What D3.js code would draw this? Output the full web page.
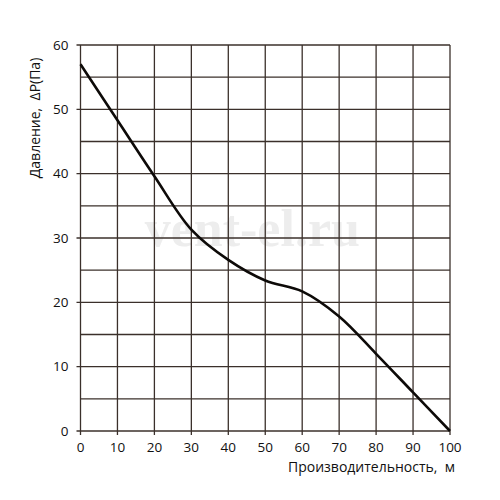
<!DOCTYPE html>
<html>
<head>
<meta charset="utf-8">
<script src="https://cdn.jsdelivr.net/npm/d3@7"></script>
<style>
body { margin: 0; background: #fff; }
text { font-family: "Open Sans", "DejaVu Sans", sans-serif; }
</style>
</head>
<body>
<div id="chart"></div>
<script>
var flow = [0, 10, 20, 30, 40, 50, 60, 70, 80, 90, 100]
var pressure = [57, 48.3, 39.6, 31.3, 26.6, 23.4, 21.7, 17.8, 12, 6, 0]
var xTicks = [0, 10, 20, 30, 40, 50, 60, 70, 80, 90, 100]
var yTicks = [0, 10, 20, 30, 40, 50, 60]
var yGrid = [5, 15, 25, 35, 45, 55]

var margin = { left: 80.5, right: 50, top: 45, bottom: 69 }
var width = 500 - margin.left - margin.right
var height = 500 - margin.top - margin.bottom
var ink = "#3b302b"

var svg = d3.select("#chart").append("svg")
    .attr("width", 500)
    .attr("height", 500)

var g = svg.append("g")
    .attr("transform", "translate(" + margin.left + "," + margin.top + ")")

var x = d3.scaleLinear().domain([0, 100]).range([0, width])
var y = d3.scaleLinear().domain([0, 60]).range([height, 0])

// watermark
g.append("text")
    .attr("x", x(46.5))
    .attr("y", y(28.8))
    .attr("text-anchor", "middle")
    .style("font-family", "'Liberation Serif', 'DejaVu Serif', serif")
    .style("font-weight", "bold")
    .style("font-size", "52px")
    .style("fill", "#ededed")
    .text("vent-el.ru")

// grid
g.selectAll(".vgrid")
    .data(xTicks)
    .enter().append("line")
    .attr("x1", d => x(d)).attr("x2", d => x(d))
    .attr("y1", 0).attr("y2", height + 4)
    .style("stroke", ink).style("stroke-width", 1.3)

g.selectAll(".hgrid")
    .data(yTicks.concat(yGrid))
    .enter().append("line")
    .attr("x1", d => yTicks.indexOf(d) >= 0 ? -4 : 0).attr("x2", width)
    .attr("y1", d => y(d)).attr("y2", d => y(d))
    .style("stroke", ink).style("stroke-width", 1.3)

// tick labels
g.selectAll(".xlab")
    .data(xTicks)
    .enter().append("text")
    .attr("x", d => x(d))
    .attr("y", height + 21)
    .attr("text-anchor", "middle")
    .style("font-size", "13.5px")
    .style("fill", "#111")
    .text(d => d)

g.selectAll(".ylab")
    .data(yTicks)
    .enter().append("text")
    .attr("x", -12)
    .attr("y", d => y(d) + 4.5)
    .attr("text-anchor", "end")
    .style("font-size", "13.5px")
    .style("fill", "#111")
    .text(d => d)

// axis titles
g.append("text")
    .attr("x", width + 5)
    .attr("y", height + 41)
    .attr("text-anchor", "end")
    .style("font-size", "14px")
    .style("fill", "#111")
    .text("Производительность,\u00a0\u00a0м")

g.append("text")
    .attr("transform", "rotate(-90)")
    .attr("x", -73)
    .attr("y", -41)
    .attr("text-anchor", "middle")
    .style("font-size", "14px")
    .style("fill", "#111")
    .text("Давление,\u00a0\u00a0ΔP(Па)")

// curve
var pts = flow.map((d, i) => [d, pressure[i]])
var line = d3.line()
    .x(d => x(d[0]))
    .y(d => y(d[1]))
    .curve(d3.curveCatmullRom.alpha(0.5))

g.append("path")
    .datum(pts)
    .attr("d", line)
    .style("fill", "none")
    .style("stroke", "#0d0a08")
    .style("stroke-width", 2.6)
</script>
</body>
</html>
